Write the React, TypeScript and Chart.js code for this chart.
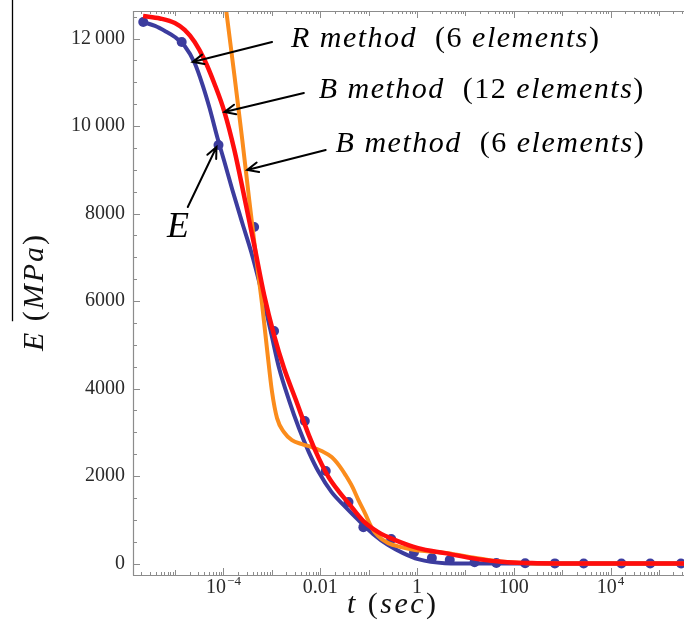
import React, { useEffect, useRef } from "react";
import { Chart, registerables } from "chart.js";

Chart.register(...registerables);

// ---------- data ----------
const dotT = [2.2e-6, 1.37e-5, 7.9e-5, 4.3e-4, 1.11e-3, 4.8e-3, 0.013, 0.0384, 0.078, 0.293, 0.867, 2.03, 4.75, 15.5, 43.7, 172, 708, 2790, 16800, 66100, 286000];
const dotE = [12380, 11920, 9567, 7692, 5315, 3258, 2115, 1406, 834, 560, 260, 126, 80, 34, 15, 8, 5, 4, 3, 2, 2];

const blueT = [2.18e-6, 3.85e-6, 6.17e-6, 9.89e-6, 1.58e-5, 2.54e-5, 3.71e-5, 5.16e-5, 7.53e-5, 1.05e-4, 1.53e-4, 2.45e-4, 3.75e-4, 6.02e-4, 9.66e-4, 1.41e-3, 2.26e-3, 3.62e-3, 5.81e-3, 9.31e-3, 0.0172, 0.0334, 0.0616, 0.125, 0.254, 0.516, 1.05, 3.75, 17.8, 3.3e5];
const blueE = [12379, 12288, 12173, 12036, 11830, 11442, 10938, 10413, 9727, 9178, 8538, 7784, 7121, 6252, 5269, 4469, 3738, 3098, 2549, 2092, 1634, 1292, 994, 674, 423, 240, 103, 11, 0, 0];

const redT = [2.18e-6, 4.87e-6, 9.89e-6, 1.58e-5, 2.54e-5, 4.07e-5, 6.54e-5, 1.05e-4, 1.68e-4, 2.7e-4, 4.32e-4, 6.93e-4, 1.11e-3, 1.78e-3, 3.14e-3, 5.81e-3, 9.31e-3, 0.0149, 0.0239, 0.0384, 0.078, 0.158, 0.354, 1.05, 3.75, 17.8, 73.6, 303, 2010, 3.3e5];
const redE = [12516, 12459, 12356, 12196, 11921, 11510, 10962, 10321, 9453, 8379, 7281, 6139, 5224, 4469, 3738, 2938, 2412, 1977, 1657, 1383, 972, 720, 537, 354, 240, 103, 34, 11, 0, 0];

const orangeT = [8.28e-5, 1.15e-4, 1.68e-4, 2.45e-4, 3.41e-4, 4.75e-4, 6.31e-4, 7.99e-4, 1.01e-3, 1.28e-3, 1.78e-3, 2.6e-3, 4.17e-3, 6.7e-3, 0.0107, 0.0172, 0.0251, 0.0334, 0.0465, 0.0616, 0.0858, 0.114, 0.158, 0.254, 0.47, 0.91, 4.32, 12.8, 45.9, 189, 780, 3.3e5];
const orangeE = [13796, 12607, 11167, 9681, 8310, 6983, 5910, 4881, 3921, 3326, 3006, 2823, 2732, 2663, 2572, 2435, 2229, 2023, 1749, 1452, 1132, 834, 629, 469, 377, 309, 240, 149, 57, 11, 0, 0];

const xMin = 1.35e-6;
const xMax = 3.3e5;
const yMin = -260;
const yMax = 12630;

const xTickValues = [1e-4, 0.01, 1, 100, 1e4];
const xTickBase = ["10", "0.01", "1", "100", "10"];
const xTickExp = ["\u22124", "", "", "", "4"];
const yTickValues = [0, 2000, 4000, 6000, 8000, 10000, 12000];
const yTickLabels = ["0", "2000", "4000", "6000", "8000", "10\u2009000", "12\u2009000"];
const yMinorStep = 500;

const noteTexts = ["R method  (6 elements)", "B method  (12 elements)", "B method  (6 elements)"];
const noteT = [2.48e-3, 9.31e-3, 0.0208];
const noteE = [11807, 10641, 9407];

const arrowFromT = [1.01e-3, 4.59e-3, 0.01297, 1.83e-5];
const arrowFromE = [11922, 10756, 9453, 8150];
const arrowToT = [2.31e-5, 1.05e-4, 3.1e-4, 7.18e-5];
const arrowToE = [11464, 10321, 8996, 9521];

const pointLabel = "E";
const pointLabelT = 6.78e-6;
const pointLabelE = 7464;

const xTitle = "t (sec)";
const yTitle = "E (MPa)";

// ---------- styling ----------
const SERIF = '"Liberation Serif", "Times New Roman", serif';
const BLUE = "rgb(60,60,158)";
const RED = "#ff0d0d";
const ORANGE = "#fb8c1c";
const FRAME = "#8c8c8c";

const zip = (t: number[], e: number[]) => t.map((v, i) => ({ x: v, y: e[i] }));

function richWidth(ctx: CanvasRenderingContext2D, text: string, size: number, spacing: number) {
  let w = 0;
  const chars = Array.from(text);
  chars.forEach((ch, i) => {
    const upright = /[0-9()]/.test(ch);
    ctx.font = `${upright ? "" : "italic "}${size}px ${SERIF}`;
    w += ctx.measureText(ch).width + (i < chars.length - 1 ? spacing : 0);
  });
  return w;
}

function drawRich(ctx: CanvasRenderingContext2D, text: string, x: number, y: number, size: number, spacing: number) {
  let cx = x;
  for (const ch of Array.from(text)) {
    const upright = /[0-9()]/.test(ch);
    ctx.font = `${upright ? "" : "italic "}${size}px ${SERIF}`;
    ctx.fillText(ch, cx, y);
    cx += ctx.measureText(ch).width + spacing;
  }
}

function drawArrow(ctx: CanvasRenderingContext2D, x1: number, y1: number, x2: number, y2: number) {
  const ang = Math.atan2(y2 - y1, x2 - x1);
  const hl = 12;
  const ha = 0.42;
  ctx.beginPath();
  ctx.moveTo(x1, y1);
  ctx.lineTo(x2, y2);
  ctx.moveTo(x2 - hl * Math.cos(ang - ha), y2 - hl * Math.sin(ang - ha));
  ctx.lineTo(x2, y2);
  ctx.lineTo(x2 - hl * Math.cos(ang + ha), y2 - hl * Math.sin(ang + ha));
  ctx.stroke();
}

const overlayPlugin = {
  id: "overlay",
  afterDraw(chart: any) {
    const { ctx, chartArea: a, scales } = chart;
    const xs = scales.x;
    const ys = scales.y;
    ctx.save();

    // frame
    ctx.strokeStyle = FRAME;
    ctx.lineWidth = 1.2;
    ctx.beginPath();
    ctx.moveTo(a.left + 0.5, a.bottom + 0.5);
    ctx.lineTo(a.left + 0.5, a.top + 0.5);
    ctx.lineTo(a.right, a.top + 0.5);
    ctx.moveTo(a.left, a.bottom + 0.5);
    ctx.lineTo(a.right, a.bottom + 0.5);
    ctx.stroke();

    // y ticks (inward)
    ctx.lineWidth = 1;
    ctx.beginPath();
    for (let v = 0; v <= ys.max; v += yMinorStep) {
      const py = Math.round(ys.getPixelForValue(v)) + 0.5;
      const len = v % 2000 === 0 ? 7 : 4;
      ctx.moveTo(a.left, py);
      ctx.lineTo(a.left + len, py);
    }
    // x ticks (inward, bottom and top)
    const kMin = Math.floor(Math.log10(xs.min));
    const kMax = Math.ceil(Math.log10(xs.max));
    for (let k = kMin; k <= kMax; k++) {
      for (let m = 1; m <= 9; m++) {
        const v = m * Math.pow(10, k);
        if (v < xs.min || v > xs.max) continue;
        const px = Math.round(xs.getPixelForValue(v)) + 0.5;
        const len = m === 1 ? (k % 2 === 0 ? 7 : 5) : 3;
        ctx.moveTo(px, a.bottom);
        ctx.lineTo(px, a.bottom - len);
        ctx.moveTo(px, a.top);
        ctx.lineTo(px, a.top + len);
      }
    }
    ctx.stroke();

    // x tick labels
    ctx.fillStyle = "#2a2a2a";
    ctx.textBaseline = "alphabetic";
    ctx.textAlign = "left";
    xTickValues.forEach((v, i) => {
      const px = xs.getPixelForValue(v);
      ctx.font = `20px ${SERIF}`;
      const wb = ctx.measureText(xTickBase[i]).width;
      ctx.font = `13px ${SERIF}`;
      const we = xTickExp[i] ? ctx.measureText(xTickExp[i]).width + 1 : 0;
      const left = px - (wb + we) / 2;
      const base = a.bottom + 18;
      ctx.font = `20px ${SERIF}`;
      ctx.fillText(xTickBase[i], left, base);
      if (xTickExp[i]) {
        ctx.font = `13px ${SERIF}`;
        ctx.fillText(xTickExp[i], left + wb + 1, base - 8);
      }
    });

    // axis titles
    ctx.fillStyle = "#111";
    const tSize = 30;
    const xw = richWidth(ctx, xTitle, tSize, 2.5);
    drawRich(ctx, xTitle, (a.left + a.right) / 2 - 17 - xw / 2, a.bottom + 38, tSize, 2.5);

    const ySp = 2;
    const yw = richWidth(ctx, yTitle, tSize, ySp);
    const cy = (a.top + a.bottom) / 2;
    const bx = 43;
    ctx.save();
    ctx.translate(bx, cy);
    ctx.rotate(-Math.PI / 2);
    drawRich(ctx, yTitle, -yw / 2, 0, tSize, ySp);
    ctx.restore();
    // overline of the y title
    const wE = richWidth(ctx, "E ", tSize, ySp) + ySp;
    ctx.strokeStyle = "#000";
    ctx.lineWidth = 1.3;
    ctx.beginPath();
    ctx.moveTo(bx - 30.5, 0);
    ctx.lineTo(bx - 30.5, cy + yw / 2 - wE);
    ctx.stroke();

    // annotations
    ctx.fillStyle = "#000";
    noteTexts.forEach((s, i) => {
      drawRich(ctx, s, xs.getPixelForValue(noteT[i]), ys.getPixelForValue(noteE[i]), 30, 1.5);
    });
    ctx.font = `italic 36px ${SERIF}`;
    ctx.fillText(pointLabel, xs.getPixelForValue(pointLabelT), ys.getPixelForValue(pointLabelE));

    ctx.strokeStyle = "#000";
    ctx.lineWidth = 2;
    ctx.lineCap = "round";
    arrowFromT.forEach((t, i) => {
      drawArrow(
        ctx,
        xs.getPixelForValue(t),
        ys.getPixelForValue(arrowFromE[i]),
        xs.getPixelForValue(arrowToT[i]),
        ys.getPixelForValue(arrowToE[i])
      );
    });
    ctx.restore();
  },
};

export default function App() {
  const ref = useRef<HTMLCanvasElement | null>(null);
  useEffect(() => {
    if (!ref.current) return;
    const chart = new Chart(ref.current, {
      type: "line",
      data: {
        datasets: [
          { label: "B 12", data: zip(redT, redE), borderColor: RED, borderWidth: 4.5, pointRadius: 0, cubicInterpolationMode: "monotone", fill: false },
          { label: "B 6", data: zip(orangeT, orangeE), borderColor: ORANGE, borderWidth: 4, pointRadius: 0, cubicInterpolationMode: "monotone", fill: false },
          { label: "R 6", data: zip(blueT, blueE), borderColor: BLUE, borderWidth: 4, pointRadius: 0, cubicInterpolationMode: "monotone", fill: false },
          { label: "E", data: zip(dotT, dotE), showLine: false, pointRadius: 5, pointBackgroundColor: BLUE, pointBorderWidth: 0, borderColor: BLUE },
        ],
      },
      options: {
        responsive: false,
        animation: false,
        events: [],
        layout: { padding: { top: 11, left: 0, right: 0, bottom: 0 } },
        plugins: { legend: { display: false }, tooltip: { enabled: false }, title: { display: false } },
        scales: {
          x: {
            type: "logarithmic",
            min: xMin,
            max: xMax,
            grid: { display: false, drawTicks: false },
            border: { display: false },
            ticks: { display: false },
            afterBuildTicks: (s: any) => {
              s.ticks = xTickValues.map((v) => ({ value: v }));
            },
            afterFit: (s: any) => {
              s.height = 57;
              s.paddingLeft = 0;
              s.paddingRight = 0;
            },
          },
          y: {
            type: "linear",
            min: yMin,
            max: yMax,
            grid: { display: false, drawTicks: false },
            border: { display: false },
            ticks: {
              padding: 8,
              color: "#2a2a2a",
              font: { family: SERIF, size: 20 },
              callback: (_v: any, i: number) => yTickLabels[i],
            },
            afterBuildTicks: (s: any) => {
              s.ticks = yTickValues.map((v) => ({ value: v }));
            },
            afterFit: (s: any) => {
              s.width = 133;
              s.paddingTop = 0;
              s.paddingBottom = 0;
            },
          },
        },
      } as any,
      plugins: [overlayPlugin],
    });
    return () => chart.destroy();
  }, []);
  return (
    <div style={{ position: "fixed", left: 0, top: 0, width: 689, height: 632, background: "#fff" }}>
      <canvas ref={ref} width={689} height={632} />
    </div>
  );
}
